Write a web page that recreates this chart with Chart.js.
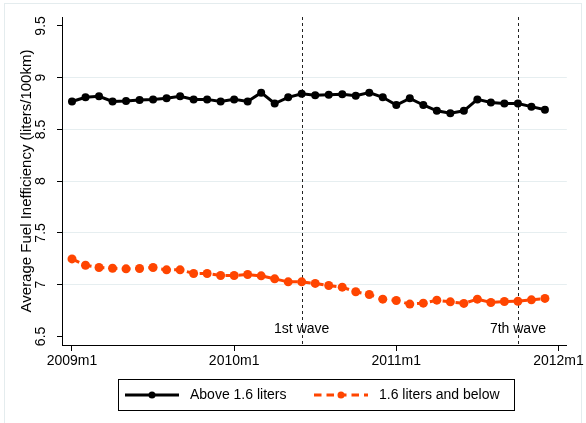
<!DOCTYPE html>
<html>
<head>
<meta charset="utf-8">
<script src="https://cdn.jsdelivr.net/npm/chart.js@4.4.0/dist/chart.umd.min.js"></script>
<style>
  html, body { margin: 0; padding: 0; background: #fff; }
  canvas { display: block; }
</style>
</head>
<body>
<canvas id="myChart" width="586" height="423"></canvas>
<script>
// monthly periods 2009m1 .. 2011m12
const months = [];
for (let yr = 2009; yr <= 2011; yr++) {
  for (let m = 1; m <= 12; m++) months.push(yr + 'm' + m);
}

const aboveValues = [8.77, 8.81, 8.82, 8.77, 8.775, 8.785, 8.79, 8.80, 8.82, 8.79, 8.79, 8.77,
                     8.79, 8.77, 8.855, 8.75, 8.81, 8.845, 8.83, 8.836, 8.839, 8.826, 8.855, 8.81,
                     8.736, 8.80, 8.736, 8.68, 8.657, 8.68, 8.79, 8.76, 8.75, 8.75, 8.72, 8.69];

const belowValues = [7.249, 7.188, 7.166, 7.159, 7.153, 7.156, 7.166, 7.143, 7.143, 7.108, 7.108, 7.089,
                     7.089, 7.098, 7.085, 7.056, 7.027, 7.027, 7.012, 6.992, 6.976, 6.931, 6.905, 6.86,
                     6.847, 6.812, 6.821, 6.85, 6.834, 6.819, 6.86, 6.828, 6.837, 6.84, 6.853, 6.867];

const seriesLabels = ['Above 1.6 liters', '1.6 liters and below'];

const xTickPos = [0, 12, 24, 36];
const xTickLabels = ['2009m1', '2010m1', '2011m1', '2012m1'];
const yTickValues = [6.5, 7, 7.5, 8, 8.5, 9, 9.5];
const yTitle = 'Average Fuel Inefficiency (liters/100km)';

const waveMonths = ['2010m6', '2011m10'];
const waveLabels = ['1st wave', '7th wave'];

const FONT = "'Liberation Sans', Arial, sans-serif";
const ORANGE = '#ff4500';
const GRID = '#e6eef0';

const toPoints = vals => vals.map((v, i) => ({ x: i, y: v }));

// dashed vertical lines for the survey waves, drawn under the series
const waveLines = {
  id: 'waveLines',
  beforeDatasetsDraw: (chart) => {
    const { ctx, chartArea: { top, bottom }, scales: { x } } = chart;
    ctx.save();
    ctx.strokeStyle = '#222';
    ctx.lineWidth = 1;
    ctx.setLineDash([3, 3]);
    waveMonths.forEach((m, i) => {
      const px = Math.round(x.getPixelForValue(months.indexOf(m))) + 0.5;
      ctx.beginPath();
      ctx.moveTo(px, top);
      ctx.lineTo(px, bottom);
      ctx.stroke();
    });
    ctx.setLineDash([]);
    ctx.fillStyle = '#000';
    ctx.font = '14px ' + FONT;
    ctx.textAlign = 'center';
    ctx.textBaseline = 'alphabetic';
    waveMonths.forEach((m, i) => {
      const px = x.getPixelForValue(months.indexOf(m));
      ctx.fillText(waveLabels[i], px, bottom - 12);
    });
    ctx.restore();
  }
};

// rotated y labels, axis title, legend box and outer frame
const decorations = {
  id: 'decorations',
  beforeDraw: (chart) => {
    const { ctx } = chart;
    ctx.save();
    ctx.strokeStyle = '#e4ecee';
    ctx.lineWidth = 1;
    ctx.strokeRect(4.5, 3.5, 577, 440);
    ctx.restore();
  },
  afterDraw: (chart) => {
    const { ctx, chartArea, scales: { y } } = chart;
    ctx.save();
    ctx.fillStyle = '#000';
    ctx.textAlign = 'center';
    ctx.textBaseline = 'middle';

    ctx.font = '14px ' + FONT;
    yTickValues.forEach(v => {
      ctx.save();
      ctx.translate(41, y.getPixelForValue(v));
      ctx.rotate(-Math.PI / 2);
      ctx.fillText(String(v), 0, 0);
      ctx.restore();
    });

    ctx.font = '15px ' + FONT;
    ctx.save();
    ctx.translate(27, (chartArea.top + chartArea.bottom) / 2);
    ctx.rotate(-Math.PI / 2);
    ctx.fillText(yTitle, 0, 0);
    ctx.restore();

    // legend
    const lx = 118.5, ly = 379.5, lw = 396, lh = 31, cy = ly + lh / 2;
    ctx.strokeStyle = '#000';
    ctx.lineWidth = 1;
    ctx.strokeRect(lx, ly, lw, lh);

    const samples = [
      { x0: 125, x1: 179, color: '#000', dash: [] },
      { x0: 314, x1: 368, color: ORANGE, dash: [7.5, 5] }
    ];
    samples.forEach((s, i) => {
      ctx.strokeStyle = s.color;
      ctx.fillStyle = s.color;
      ctx.lineWidth = 3;
      ctx.setLineDash(s.dash);
      ctx.beginPath();
      ctx.moveTo(s.x0, cy);
      ctx.lineTo(s.x1, cy);
      ctx.stroke();
      ctx.setLineDash([]);
      ctx.beginPath();
      ctx.arc((s.x0 + s.x1) / 2, cy, 3.5, 0, Math.PI * 2);
      ctx.fill();
      ctx.fillStyle = '#000';
      ctx.font = '14px ' + FONT;
      ctx.textAlign = 'left';
      ctx.fillText(seriesLabels[i], s.x1 + 11, cy + 0.5);
    });
    ctx.restore();
  }
};

const config = {
  type: 'line',
  data: {
    datasets: [{
      label: seriesLabels[0],
      data: toPoints(aboveValues),
      borderColor: '#000',
      backgroundColor: '#000',
      borderWidth: 3,
      pointRadius: 4,
      pointBorderWidth: 0,
      pointBackgroundColor: '#000',
      tension: 0
    }, {
      label: seriesLabels[1],
      data: toPoints(belowValues),
      borderColor: ORANGE,
      backgroundColor: ORANGE,
      borderWidth: 3,
      borderDash: [8, 5],
      pointRadius: 4.5,
      pointBorderWidth: 0,
      pointBackgroundColor: ORANGE,
      tension: 0
    }]
  },
  options: {
    responsive: false,
    animation: false,
    events: [],
    layout: { padding: { top: 17, right: 16, left: 0, bottom: 0 } },
    plugins: { legend: { display: false }, tooltip: { enabled: false } },
    scales: {
      x: {
        type: 'linear',
        min: -0.74,
        max: 36.62,
        afterBuildTicks: (axis) => { axis.ticks = xTickPos.map(v => ({ value: v })); },
        afterFit: (axis) => { axis.height = 78; },
        ticks: {
          autoSkip: false,
          maxRotation: 0,
          padding: 2,
          color: '#000',
          font: { family: FONT, size: 14 },
          callback: (v) => xTickLabels[xTickPos.indexOf(v)]
        },
        grid: { drawOnChartArea: false, tickLength: 6, tickColor: '#000' },
        border: { color: '#000', width: 1 }
      },
      y: {
        type: 'linear',
        min: 6.417,
        max: 9.586,
        afterBuildTicks: (axis) => { axis.ticks = yTickValues.map(v => ({ value: v })); },
        afterFit: (axis) => { axis.width = 62; },
        ticks: { display: false },
        grid: {
          color: (c) => (c.tick && c.tick.value > 6.6 && c.tick.value < 9.4) ? GRID : 'rgba(0,0,0,0)',
          tickLength: 5,
          tickColor: '#000'
        },
        border: { color: '#000', width: 1 }
      }
    }
  },
  plugins: [waveLines, decorations]
};

new Chart(document.getElementById('myChart').getContext('2d'), config);
</script>
</body>
</html>
